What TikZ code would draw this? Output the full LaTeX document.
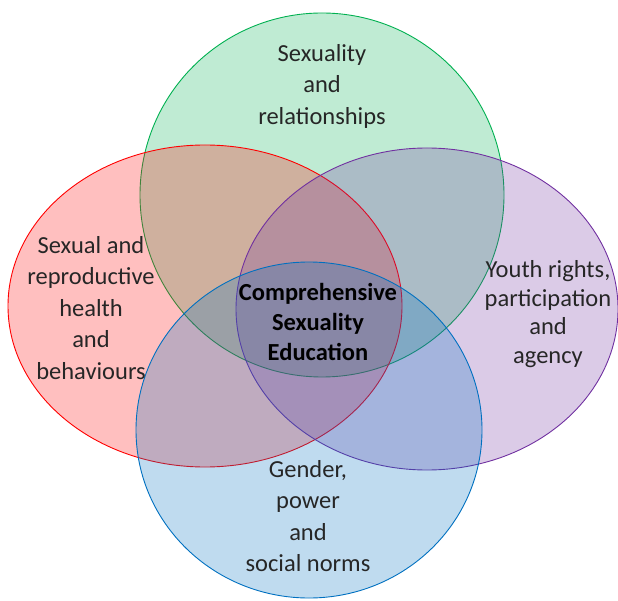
\documentclass[tikz,border=0pt]{standalone}
\usepackage{fontspec}
\setmainfont{Carlito}
\definecolor{cgreen}{HTML}{00B050}
\definecolor{cred}{HTML}{FF0000}
\definecolor{cpurple}{HTML}{7030A0}
\definecolor{cblue}{HTML}{0070C0}
\definecolor{txt}{HTML}{262626}
\tikzset{
  lbl/.style={align=center, font=\fontsize{24.5}{31.5}\selectfont, text=txt, inner sep=0pt},
}
\usetikzlibrary{shapes.geometric}
\begin{document}
\begin{tikzpicture}[x=1pt,y=-1pt]
\useasboundingbox (0,0) rectangle (618,601);
\draw[fill=cgreen, fill opacity=0.25, draw=cgreen, line width=0.9pt] (322,195) ellipse [x radius=182, y radius=182];
\draw[fill=cred, fill opacity=0.25, draw=cred, line width=0.9pt] (205,306) ellipse [x radius=197, y radius=161];
\draw[fill=cpurple, fill opacity=0.25, draw=cpurple, line width=0.9pt] (427,309) ellipse [x radius=191, y radius=161];
\draw[fill=cblue, fill opacity=0.25, draw=cblue, line width=0.9pt] (309,430) ellipse [x radius=173, y radius=168];
\node[lbl] (top) at (322,86) {Sexuality\\and\\relationships};
\node[lbl] (left) at (91,308) {Sexual and\\reproductive\\health\\and\\behaviours};
\node[lbl, font=\fontsize{24.5}{28.5}\selectfont] (right) at (548,314) {Youth rights,\\participation\\and\\agency};
\node[lbl] (bottom) at (308,516) {Gender,\\power\\and\\social norms};
\node[lbl, font=\bfseries\fontsize{24.5}{30}\selectfont, text=black] (center) at (318,322) {Comprehensive\\Sexuality\\Education};
\end{tikzpicture}
\end{document}
